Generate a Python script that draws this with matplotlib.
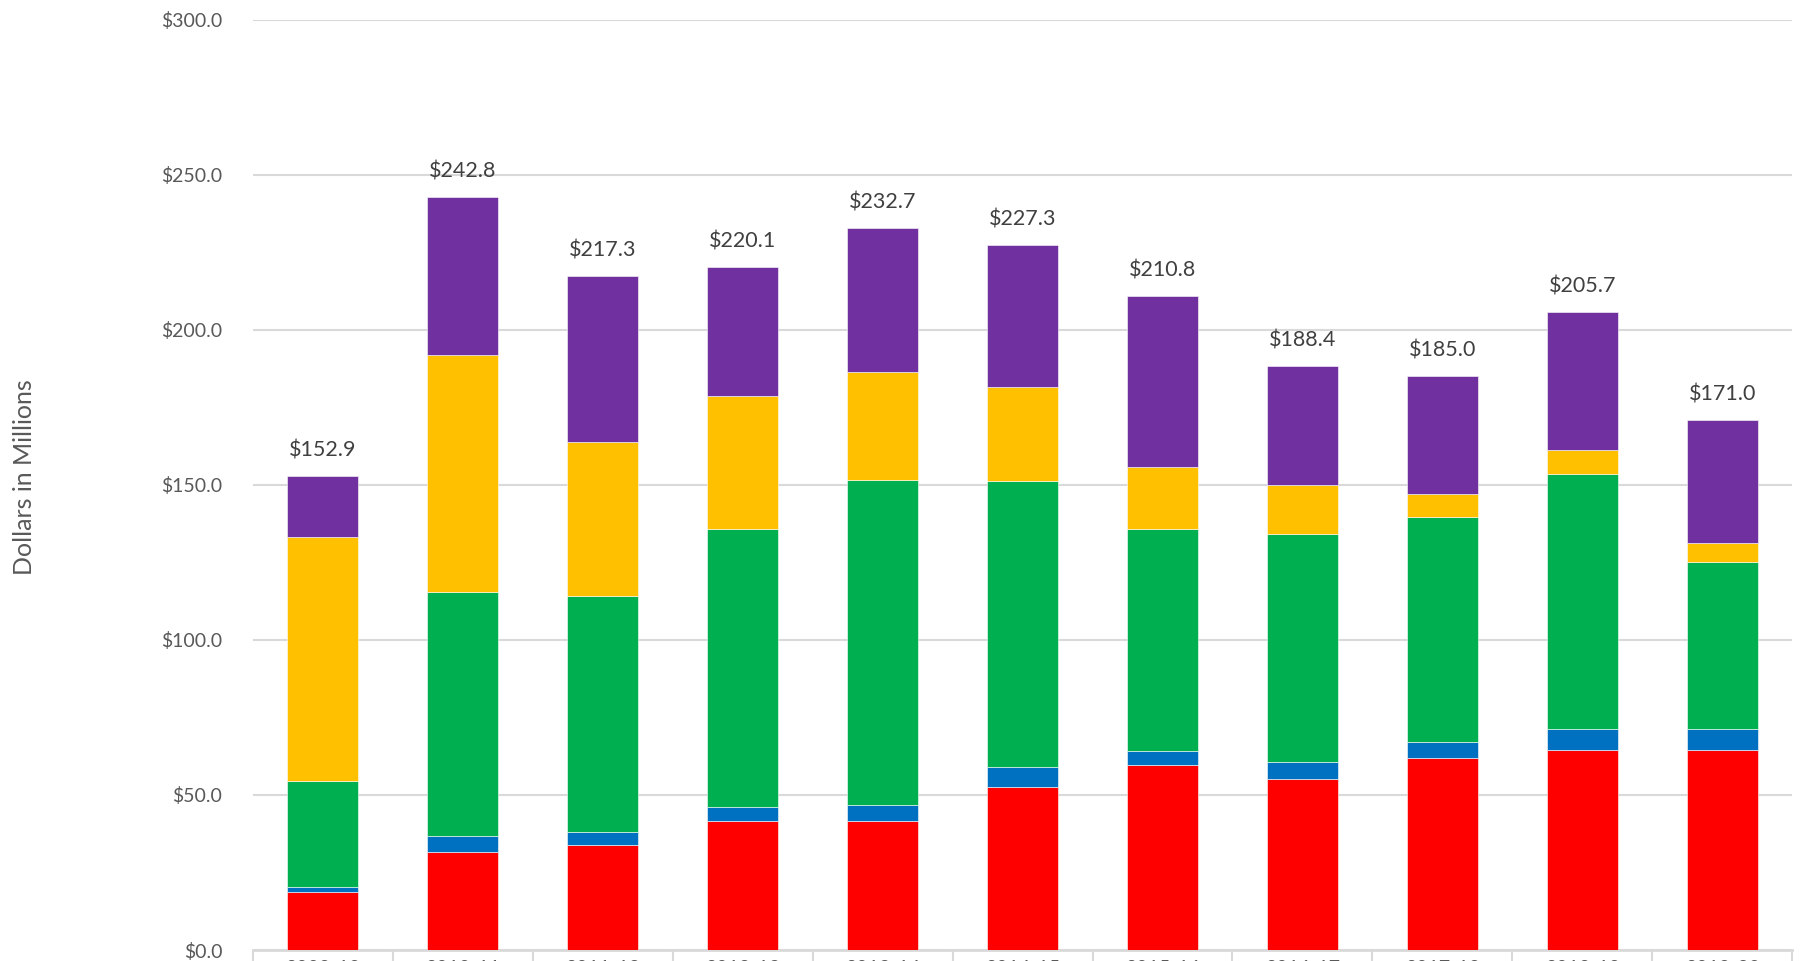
import numpy as np
import matplotlib.pyplot as plt

plt.rcParams['font.family'] = ['Lato', 'DejaVu Sans']

years = ['2009-10', '2010-11', '2011-12', '2012-13', '2013-14', '2014-15',
         '2015-16', '2016-17', '2017-18', '2018-19', '2019-20']

# stacked segments, bottom to top (millions of dollars)
red = [18.6, 31.6, 33.8, 41.6, 41.6, 52.7, 59.8, 55.3, 62.0, 64.6, 64.6]
blue = [1.8, 5.2, 4.4, 4.4, 5.2, 6.3, 4.4, 5.2, 5.2, 6.7, 6.7]
green = [34.2, 78.7, 75.8, 89.9, 104.7, 92.1, 71.7, 73.5, 72.4, 82.1, 53.8]
yellow = [78.7, 76.5, 49.7, 42.7, 34.9, 30.5, 20.0, 16.0, 7.4, 7.8, 6.3]
totals = [152.9, 242.8, 217.3, 220.1, 232.7, 227.3, 210.8, 188.4, 185.0, 205.7, 171.0]

series = [red, blue, green, yellow]
colors = ['#FF0000', '#0070C0', '#00B050', '#FFC000', '#7030A0']

fig = plt.figure(figsize=(18.05, 9.61), dpi=100)
ax = fig.add_axes([0.140, 0.0114, 0.853, 0.9682])

x = np.arange(len(years))
bottom = np.zeros(len(years))
for vals, c in zip(series, colors):
    ax.bar(x, vals, 0.51, bottom=bottom, color=c, edgecolor='white', linewidth=0.4, zorder=3)
    bottom += np.array(vals)
# top segment fills up to the stated total
purple = np.array(totals) - bottom
ax.bar(x, purple, 0.51, bottom=bottom, color=colors[4], edgecolor='white', linewidth=0.4, zorder=3)

for xi, t in zip(x, totals):
    ax.text(xi, t + 5, '${:.1f}'.format(t), ha='center', va='bottom',
            fontsize=15.5, color='#404040')

ax.set_xlim(-0.5, len(years) - 0.5)
ax.set_ylim(0, 300)
ax.set_yticks(np.arange(0, 301, 50))
ax.set_yticklabels(['${:.1f}'.format(v) for v in np.arange(0, 301, 50)])
ax.tick_params(axis='y', length=0, pad=22, labelsize=14, labelcolor='#595959')
ax.yaxis.grid(True, color='#D9D9D9', linewidth=1.5, zorder=0)

ax.set_xticks(x)
ax.set_xticklabels(years)
ax.tick_params(axis='x', which='major', length=0, pad=7.5, labelsize=14, labelcolor='#595959')
ax.set_xticks(np.arange(-0.5, len(years)), minor=True)
ax.tick_params(axis='x', which='minor', length=20, width=1.5, color='#D9D9D9')

for side in ['top', 'right', 'left']:
    ax.spines[side].set_visible(False)
ax.spines['bottom'].set_color('#D9D9D9')
ax.spines['bottom'].set_linewidth(2)

fig.text(0.0135, 0.504, 'Dollars in Millions', rotation=90, ha='center', va='center',
         fontsize=18, color='#595959')

fig.savefig('out.png', dpi=100)
